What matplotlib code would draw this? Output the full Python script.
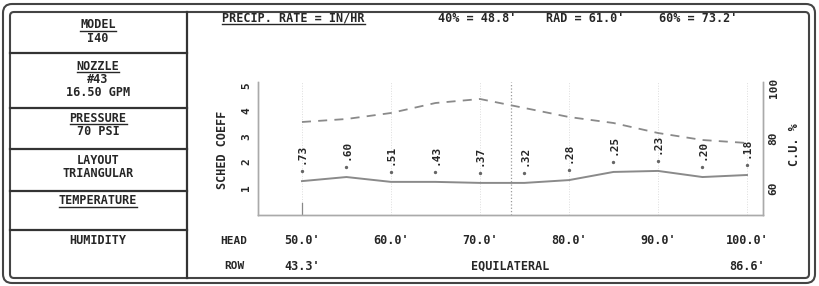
import matplotlib.pyplot as plt
import matplotlib.transforms as mtransforms
from matplotlib.patches import FancyBboxPatch
import numpy as np

# datos de la carta
heads = [50, 55, 60, 65, 70, 75, 80, 85, 90, 95, 100]
sched_coeff = [1.25, 1.41, 1.22, 1.22, 1.18, 1.18, 1.29, 1.61, 1.65, 1.41, 1.49]
cu_pct = [86.4, 87.6, 90.0, 94.0, 95.6, 92.0, 88.4, 86.0, 82.0, 79.2, 78.0]
precip = [0.73, 0.60, 0.51, 0.43, 0.37, 0.32, 0.28, 0.25, 0.23, 0.20, 0.18]
row_spacing = ["43.3'", "86.6'"]
header = ["40% = 48.8'", "RAD = 61.0'", "60% = 73.2'"]
table = [("MODEL", ["I40"], True),
         ("NOZZLE", ["#43", "16.50 GPM"], True),
         ("PRESSURE", ["70 PSI"], True),
         ("LAYOUT", ["TRIANGULAR"], False),
         ("TEMPERATURE", [], True),
         ("HUMIDITY", [], False)]

W, H = 819, 286
INK = '#262626'
font = dict(family='DejaVu Sans Mono', weight='bold', color=INK)

fig = plt.figure(figsize=(W / 100, H / 100), dpi=100)

# capa de fondo en pixeles
bg = fig.add_axes([0, 0, 1, 1], zorder=0)
bg.set_xlim(0, W)
bg.set_ylim(H, 0)
bg.axis('off')

# marco doble
for (x0, y0, x1, y1, r) in [(3, 4, 815, 283, 9), (10, 12, 809, 278, 4)]:
    bg.add_patch(FancyBboxPatch((x0, y0), x1 - x0, y1 - y0,
                                boxstyle='round,pad=0,rounding_size=%d' % r,
                                fc='none', ec='#444444', lw=1.5))

# tabla de la izquierda
bg.plot([187, 187], [12, 278], color='#333333', lw=1.6)
for yy in [53, 108, 149, 191, 230]:
    bg.plot([10, 187], [yy, yy], color='#333333', lw=1.6)

row_tops = [25, 66, 118, 160, 201, 241]
titles = []
for (title, vals, under), yt in zip(table, row_tops):
    t = bg.text(98, yt, title, ha='center', va='center', fontsize=8.5, **font)
    if under:
        titles.append((t, yt))
    for i, v in enumerate(vals):
        bg.text(98, yt + 13.5 * (i + 1), v, ha='center', va='center',
                fontsize=8.5, **font)

# cabecera
t_pr = bg.text(222, 18, "PRECIP. RATE = IN/HR", ha='left', va='center',
               fontsize=8.5, **font)
titles.append((t_pr, 18))
for txt, xx in zip(header, [477, 585, 698]):
    bg.text(xx, 18, txt, ha='center', va='center', fontsize=8.5, **font)

# grafica
ax = fig.add_axes([258 / W, 1 - 215 / H, (763 - 258) / W, (215 - 82) / H],
                  zorder=2)
ax.patch.set_alpha(0)
ax.set_xlim(45.06, 101.8)
ax.set_ylim(-0.08, 5.14)

for h in heads[::2]:
    ax.axvline(h, ls=':', color='#dddddd', lw=0.7, zorder=0)
ax.axvline(np.mean(ax.get_xlim()), ls=':', color='#999999', lw=0.9, zorder=0)
ax.axvline(heads[0], ymax=0.09, color='#888888', lw=0.9)

ax.plot(heads, sched_coeff, color='#8a8a8a', lw=1.4)

off = mtransforms.offset_copy(ax.transData, fig=fig, x=0, y=10, units='dots')
ax.plot(heads, sched_coeff, 'o', ms=1.4, color='#666666', transform=off)
for h, s, p in zip(heads, sched_coeff, precip):
    ax.annotate(("%.2f" % p).lstrip('0'), (h, s), xytext=(0, 27),
                textcoords='offset pixels', rotation=90, ha='center',
                va='center', fontsize=8, **font)

ax.set_yticks([1, 2, 3, 4, 5])
ax.set_xticks([])
ax.tick_params(axis='y', length=0, pad=5, labelsize=8, labelrotation=90,
               labelcolor=INK)
for lab in ax.get_yticklabels():
    lab.set_fontfamily('DejaVu Sans Mono')
    lab.set_fontweight('bold')
    lab.set_va('center')
ax.spines['top'].set_visible(False)
for s in ['left', 'bottom', 'right']:
    ax.spines[s].set_color('#aaaaaa')
    ax.spines[s].set_linewidth(1.0)

ax2 = ax.twinx()
ax2.set_ylim(49.2, 102.4)
ax2.plot(heads, cu_pct, color='#8a8a8a', lw=1.3, dashes=(5, 4))
ax2.set_yticks([60, 80, 100])
ax2.tick_params(axis='y', length=0, pad=4, labelsize=8, labelrotation=90,
                labelcolor=INK)
for lab in ax2.get_yticklabels():
    lab.set_fontfamily('DejaVu Sans Mono')
    lab.set_fontweight('bold')
    lab.set_va('center')
ax2.spines['top'].set_visible(False)
for s in ['left', 'bottom', 'right']:
    ax2.spines[s].set_color('#aaaaaa')
    ax2.spines[s].set_linewidth(1.0)

bg.text(223, 150, "SCHED COEFF", rotation=90, ha='center', va='center',
        fontsize=8.5, **font)
bg.text(795, 145, "C.U. %", rotation=90, ha='center', va='center',
        fontsize=8.5, **font)

# filas inferiores
tr = mtransforms.blended_transform_factory(ax.transData, bg.transData)
bg.text(234, 241, "HEAD", ha='center', va='center', fontsize=8, **font)
bg.text(234, 266, "ROW", ha='center', va='center', fontsize=8, **font)
for h in heads[::2]:
    ax.text(h, 241, "%.1f'" % h, transform=tr, ha='center', va='center',
            fontsize=8.5, clip_on=False, **font)
ax.text(heads[0], 266, row_spacing[0], transform=tr, ha='center',
        va='center', fontsize=8.5, clip_on=False, **font)
ax.text(heads[-1], 266, row_spacing[1], transform=tr, ha='center',
        va='center', fontsize=8.5, clip_on=False, **font)
ax.text(np.mean(ax.get_xlim()), 266, "EQUILATERAL", transform=tr,
        ha='center', va='center', fontsize=8.5, clip_on=False, **font)

# subrayados
fig.canvas.draw()
inv = bg.transData.inverted()
for t, yt in titles:
    bb = t.get_window_extent()
    (xa, _), (xb, _) = inv.transform([[bb.x0, bb.y0], [bb.x1, bb.y0]])
    bg.plot([xa, xb], [yt + 5.5, yt + 5.5], color=INK, lw=1.0)

fig.savefig('out.png', dpi=100)
